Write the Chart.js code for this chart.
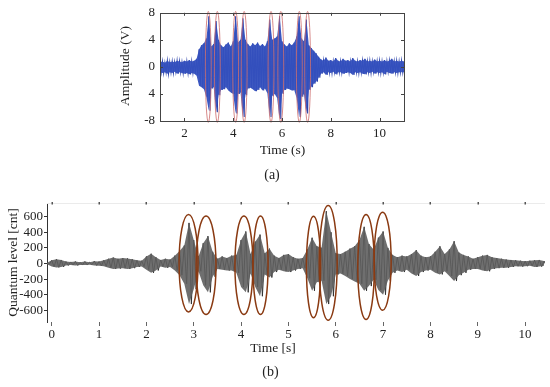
<!DOCTYPE html>
<html><head><meta charset="utf-8">
<script src="https://cdn.jsdelivr.net/npm/chart.js@4.4.1/dist/chart.umd.min.js"></script>
<style>
html,body{margin:0;padding:0;background:#fff;}
#wrap{position:relative;width:550px;height:387px;overflow:hidden;background:#fff;}
#ca{position:absolute;left:0;top:0;}
#cb{position:absolute;left:0;top:190px;}
</style></head><body>
<div id="wrap">
<canvas id="ca" width="550" height="190"></canvas>
<canvas id="cb" width="550" height="197"></canvas>
</div>
<script>
// ---------- Panel (a) data ----------
const topT0 = 1.0, topDt = 0.1;
const topUpper = [
 0.7,0.8,0.6,0.9,0.7,0.8,0.7,0.9,0.8,0.7,
 0.9,0.8,1.0,0.8,0.9,1.2,2.6,3.2,3.5,4.2,
 7.5,3.0,3.4,6.8,4.0,3.2,2.9,3.3,3.6,3.0,
 3.8,7.5,3.6,4.0,7.2,4.0,3.4,3.0,3.5,3.2,
 3.6,3.1,3.4,3.0,3.8,7.0,4.0,4.2,4.5,7.5,
 3.8,3.3,3.0,3.5,3.2,3.6,4.5,7.5,4.2,3.8,
 7.0,3.2,2.8,2.4,2.0,1.5,1.1,0.9,1.4,0.9,
 1.0,0.8,1.3,0.9,0.8,1.2,0.9,1.0,0.8,1.3,
 0.9,0.8,1.0,0.9,1.2,0.8,0.9,0.8,1.1,0.8,
 0.9,0.8,1.0,0.8,0.9,1.2,0.8,0.9,0.8,0.9,
 0.8];
const topLower = [
 -0.8,-0.9,-0.8,-1.0,-0.8,-0.9,-0.7,-1.0,-0.8,-0.9,
 -1.0,-0.9,-1.1,-0.9,-1.0,-1.3,-2.8,-3.0,-3.3,-4.5,
 -6.5,-3.2,-3.0,-6.7,-4.2,-3.4,-3.3,-3.0,-3.5,-3.8,
 -4.0,-6.9,-4.0,-3.8,-7.4,-4.2,-3.2,-3.1,-3.3,-3.6,
 -3.4,-3.0,-3.5,-3.2,-3.9,-7.4,-4.3,-4.0,-4.6,-7.7,
 -4.0,-3.4,-3.2,-3.3,-3.5,-3.4,-4.6,-7.4,-4.4,-4.0,
 -6.9,-3.4,-3.0,-2.5,-2.2,-1.6,-1.0,-0.8,-1.2,-0.8,
 -0.9,-0.7,-1.1,-0.8,-0.8,-1.0,-0.9,-0.8,-0.9,-1.2,
 -0.8,-0.9,-0.8,-1.0,-1.1,-0.8,-0.9,-0.7,-1.0,-0.8,
 -0.9,-0.8,-1.1,-0.7,-0.9,-1.0,-0.8,-0.9,-0.8,-0.8,
 -0.8];
const topXTicks = [2,4,6,8,10];
const topYTicks = [-8,-4,0,4,8];
const topYLabels = ['-8','4','0','4','8'];
const topEllT = [2.98,3.35,4.10,4.45,5.55,5.95,6.71,7.05];
const topEllHalfW = [0.12,0.12,0.12,0.12,0.12,0.12,0.12,0.12];
const topEllY = [0,0,0,0,0,0,0,0];
const topEllHalfH = [8.2,8.2,8.2,8.2,8.2,8.2,8.2,8.2];

// ---------- Panel (b) data ----------
const botT0 = -0.1, botDt = 0.1;
const botUpper = [
 10,40,55,45,25,20,25,15,25,15,
 30,25,40,60,75,60,70,65,55,40,
 35,90,125,80,45,60,50,100,160,230,
 520,300,90,260,350,150,60,90,70,100,
 110,300,410,120,280,370,130,190,100,70,
 110,120,80,60,70,180,330,220,200,670,
 400,130,120,150,190,220,300,470,250,180,
 330,410,200,110,80,100,90,120,170,100,
 80,90,150,220,120,180,285,140,110,90,
 60,80,100,110,80,70,60,50,45,40,
 35,30,35,40,45,30];
const botLower = [
 -10,-40,-50,-45,-25,-20,-25,-20,-20,-15,
 -25,-30,-35,-55,-70,-65,-60,-70,-60,-45,
 -40,-80,-120,-90,-40,-55,-45,-90,-150,-260,
 -520,-330,-100,-280,-370,-170,-70,-80,-90,-90,
 -120,-300,-370,-130,-300,-420,-140,-180,-110,-80,
 -100,-110,-90,-70,-60,-190,-350,-240,-220,-520,
 -420,-140,-130,-160,-200,-230,-260,-350,-290,-210,
 -340,-400,-220,-120,-90,-110,-80,-130,-160,-110,
 -90,-80,-120,-140,-100,-160,-225,-150,-120,-80,
 -70,-70,-90,-100,-70,-60,-55,-55,-45,-35,
 -40,-35,-30,-45,-40,-30];
const botXTicks = [0,1,2,3,4,5,6,7,8,9,10];
const botYTicks = [-600,-400,-200,0,200,400,600];
const botEllT = [2.89,3.26,4.06,4.41,5.53,5.84,6.64,6.99];
const botEllHalfW = [0.20,0.21,0.19,0.16,0.15,0.19,0.175,0.18];
const botEllY = [3,-23,-23,-23,-45,9,-45,30];
const botEllHalfH = [625,630,630,630,650,735,673,628];

// ---------- helpers ----------
function envPoints(t0, dt, arr){ return arr.map((v,i)=>({x:t0+i*dt, y:v})); }
function zigzag(t0, dt, up, lo){
  const pts=[];
  up.forEach((v,i)=>{ const t=t0+i*dt; pts.push({x:t,y:v}); pts.push({x:t+dt/2,y:lo[i]}); });
  return pts;
}
function setTicks(arr){ return s=>{ s.ticks = arr.map(v=>({value:v})); }; }
function ellipsePlugin(id, T, HW, Y, HH, color, lw){
  return { id, afterDatasetsDraw(chart){
    const ctx=chart.ctx, xs=chart.scales.x, ys=chart.scales.y;
    ctx.save(); ctx.strokeStyle=color; ctx.lineWidth=lw;
    T.forEach((t,i)=>{
      const cx=xs.getPixelForValue(t), cy=ys.getPixelForValue(Y[i]);
      const rx=Math.abs(xs.getPixelForValue(t+HW[i])-cx);
      const ry=Math.abs(ys.getPixelForValue(Y[i]+HH[i])-cy);
      ctx.beginPath(); ctx.ellipse(cx,cy,rx,ry,0,0,Math.PI*2); ctx.stroke();
    });
    ctx.restore();
  }};
}
Chart.defaults.font.family = '"Liberation Serif", "Times New Roman", serif';
Chart.defaults.color = '#222';

// ---------- Panel (a) ----------
const decorA = { id:'decorA', afterDraw(chart){
  const ctx=chart.ctx, a=chart.chartArea, xs=chart.scales.x, ys=chart.scales.y;
  ctx.save();
  ctx.strokeStyle='#444'; ctx.lineWidth=1;
  ctx.strokeRect(Math.round(a.left)+0.5, Math.round(a.top)+0.5, Math.round(a.right-a.left), Math.round(a.bottom-a.top));
  ctx.beginPath();
  topXTicks.forEach(v=>{ const p=Math.round(xs.getPixelForValue(v))+0.5; ctx.moveTo(p,a.bottom); ctx.lineTo(p,a.bottom-3); ctx.moveTo(p,a.top); ctx.lineTo(p,a.top+3); });
  topYTicks.forEach(v=>{ const p=Math.round(ys.getPixelForValue(v))+0.5; ctx.moveTo(a.left,p); ctx.lineTo(a.left+3,p); ctx.moveTo(a.right,p); ctx.lineTo(a.right-3,p); });
  ctx.stroke();
  ctx.fillStyle='#222'; ctx.textAlign='center'; ctx.textBaseline='middle';
  ctx.font='13.5px "Liberation Serif", serif';
  ctx.fillText('Time (s)', 282.5, 150);
  ctx.font='14px "Liberation Serif", serif';
  ctx.fillText('(a)', 272, 175);
  ctx.font='13.5px "Liberation Serif", serif';
  ctx.translate(125, 66); ctx.rotate(-Math.PI/2); ctx.fillText('Amplitude (V)', 0, 0);
  ctx.restore();
}};

new Chart(document.getElementById('ca'), {
  type:'line',
  data:{ datasets:[
    { data: envPoints(topT0,topDt,topUpper), borderWidth:0, pointRadius:0, fill:'+1', backgroundColor:'rgba(52,80,190,0.95)', tension:0 },
    { data: envPoints(topT0,topDt,topLower), borderWidth:0, pointRadius:0, fill:false, tension:0 },
    { data: zigzag(topT0,topDt,topUpper,topLower), borderColor:'#2a40a8', borderWidth:1.1, pointRadius:0, fill:false, tension:0 }
  ]},
  options:{
    responsive:false, animation:false, events:[],
    layout:{ padding:{ top:12, right:146, left:0, bottom:0 } },
    plugins:{ legend:{display:false}, tooltip:{enabled:false} },
    scales:{
      x:{ type:'linear', min:1, max:11, afterBuildTicks:setTicks(topXTicks), afterFit:s=>{s.height=69;},
          grid:{display:false, drawTicks:false}, border:{display:false},
          ticks:{padding:5, maxRotation:0, font:{size:13}, color:'#222'} },
      y:{ type:'linear', min:-8, max:8, afterBuildTicks:setTicks(topYTicks), afterFit:s=>{s.width=160;},
          grid:{display:false, drawTicks:false}, border:{display:false},
          ticks:{padding:5, font:{size:13}, color:'#222', callback:(v,i)=>topYLabels[i]} }
    }
  },
  plugins:[ellipsePlugin('ellA', topEllT, topEllHalfW, topEllY, topEllHalfH, 'rgba(205,110,110,0.9)', 0.9), decorA]
});

// ---------- Panel (b) ----------
const decorB = { id:'decorB', afterDraw(chart){
  const ctx=chart.ctx, a=chart.chartArea, xs=chart.scales.x;
  ctx.save();
  ctx.strokeStyle='#ebebeb'; ctx.lineWidth=1;
  ctx.beginPath(); ctx.moveTo(a.left, Math.round(a.top)+0.5); ctx.lineTo(a.right, Math.round(a.top)+0.5); ctx.stroke();
  ctx.fillStyle='#555';
  botXTicks.forEach(v=>{ const p=xs.getPixelForValue(v); ctx.fillRect(Math.round(p)-0.5, Math.round(a.top)-1, 1.5, 2.5); });
  ctx.fillStyle='#222'; ctx.textAlign='center'; ctx.textBaseline='middle';
  ctx.font='13.5px "Liberation Serif", serif';
  ctx.fillText('Time [s]', 273, 158);
  ctx.font='14px "Liberation Serif", serif';
  ctx.fillText('(b)', 270.5, 182);
  ctx.font='13.5px "Liberation Serif", serif';
  ctx.translate(13, 72.5); ctx.rotate(-Math.PI/2); ctx.fillText('Quantum level [cnt]', 0, 0);
  ctx.restore();
}};

new Chart(document.getElementById('cb'), {
  type:'line',
  data:{ datasets:[
    { data: envPoints(botT0,botDt,botUpper), borderWidth:0, pointRadius:0, fill:'+1', backgroundColor:'rgba(95,95,95,0.9)', tension:0 },
    { data: envPoints(botT0,botDt,botLower), borderWidth:0, pointRadius:0, fill:false, tension:0 },
    { data: zigzag(botT0,botDt,botUpper,botLower), borderColor:'#333', borderWidth:1, pointRadius:0, fill:false, tension:0 }
  ]},
  options:{
    responsive:false, animation:false, events:[],
    layout:{ padding:{ top:13, right:5, left:0, bottom:0 } },
    plugins:{ legend:{display:false}, tooltip:{enabled:false} },
    scales:{
      x:{ type:'linear', min:-0.1, max:10.42, afterBuildTicks:setTicks(botXTicks), afterFit:s=>{s.height=65;},
          grid:{display:true, drawOnChartArea:false, drawTicks:true, tickLength:4, color:'#666', lineWidth:1}, border:{display:false},
          ticks:{padding:1, maxRotation:0, font:{size:13}, color:'#222'} },
      y:{ type:'linear', min:-750, max:775, afterBuildTicks:setTicks(botYTicks), afterFit:s=>{s.width=47;},
          grid:{display:true, drawOnChartArea:false, drawTicks:true, tickLength:3, color:'#333', lineWidth:1}, border:{display:true, color:'#333', width:1},
          ticks:{padding:1, font:{size:13}, color:'#222'} }
    }
  },
  plugins:[ellipsePlugin('ellB', botEllT, botEllHalfW, botEllY, botEllHalfH, '#8a3a12', 1.5), decorB]
});
</script>
</body></html>
